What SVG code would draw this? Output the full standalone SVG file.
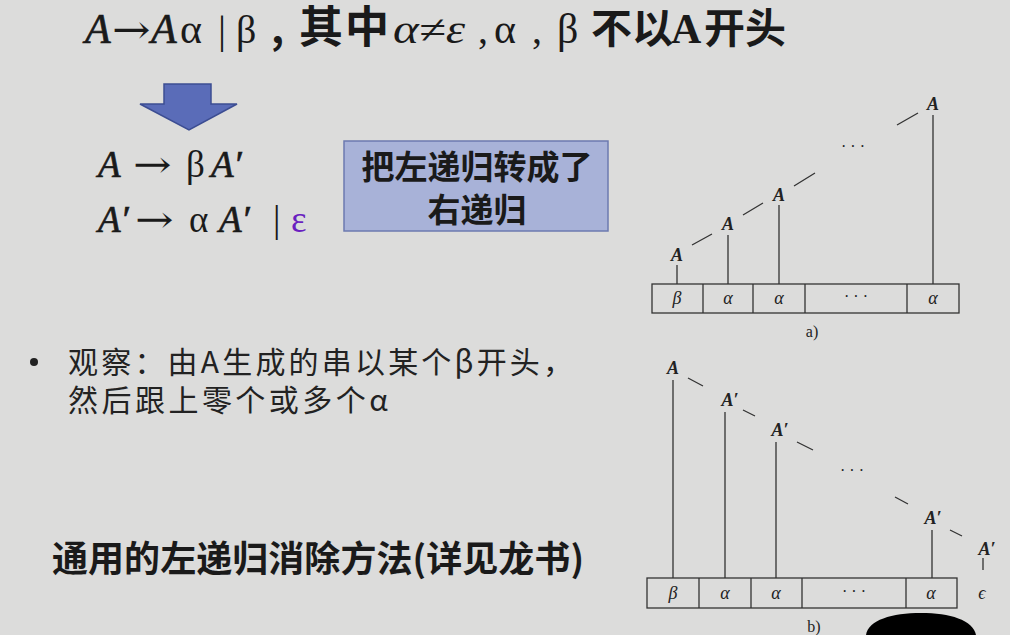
<svg xmlns="http://www.w3.org/2000/svg" width="1010" height="635" viewBox="0 0 1010 635">
<style>
.tm{font-family:"Liberation Serif","Times New Roman",serif;fill:#1a1a1a}
.ar{font-family:"DejaVu Serif",serif;fill:#1a1a1a}
.th{stroke:#1a1a1a;stroke-width:0.7}
.it{font-style:italic}
.cjkb{font-family:"Noto Sans CJK SC","Liberation Sans",sans-serif;font-weight:bold;fill:#1a1a1a}
.cjk{font-family:"Noto Sans CJK SC","Liberation Sans",sans-serif;fill:#222}
.cm{font-family:"Liberation Serif","Times New Roman",serif;font-style:italic;font-weight:bold;font-size:18px;fill:#222;text-anchor:middle}
.cv{font-family:"Liberation Serif","Times New Roman",serif;font-style:italic;font-size:18px;fill:#222;text-anchor:middle}
.cmr{font-family:"Liberation Serif","Times New Roman",serif;font-size:16px;fill:#222;text-anchor:middle}
.ln{stroke:#333;stroke-width:1.3;fill:none}
.cell{stroke:#333;stroke-width:1.3;fill:none}
</style>
<rect width="1010" height="635" fill="#dcdcdb"/>

<g id="title">
<text class="tm it th" font-size="42" x="85" y="43">A</text>
<text class="ar" font-size="40" transform="translate(112,43) scale(1.15,1)">→</text>
<text class="tm it th" font-size="42" x="151" y="43">A</text>
<text class="tm" font-size="42" x="180" y="43">α</text>
<text class="tm" font-size="40" x="218" y="43">| β</text>
<text class="cjkb" font-size="40" x="271" y="43">,</text>
<text class="cjkb" font-size="44" x="299" y="43" letter-spacing="2">其中</text>
<text class="tm it" font-size="40" x="393" y="43" textLength="72" lengthAdjust="spacingAndGlyphs">α≠ε</text>
<text class="tm" font-size="40" x="478" y="43">,</text>
<text class="tm" font-size="42" x="494" y="43">α</text>
<text class="tm" font-size="40" x="532" y="43">,</text>
<text class="tm" font-size="42" x="557" y="43">β</text>
<text class="cjkb" font-size="41" x="591" y="43">不以</text>
<text class="tm" font-size="42" font-weight="bold" x="671" y="43">A</text>
<text class="cjkb" font-size="41" x="704" y="43">开头</text>
</g>

<g id="down-arrow">
<path d="M164,84 H211 V104 H237 L189,130 L140,104 H164 Z" fill="#5a6cb8" stroke="#3c4d92" stroke-width="1.5"/>
</g>

<g id="rules">
<text class="tm it th" font-size="37" x="98" y="177">A</text>
<text class="ar" font-size="37" transform="translate(133,177) scale(1.25,1)">→</text>
<text class="tm" font-size="37" x="186" y="177">β</text>
<text class="tm it th" font-size="37" x="211" y="177">A′</text>
<text class="tm it th" font-size="37" x="98" y="232">A′</text>
<text class="ar" font-size="37" transform="translate(135,232) scale(1.25,1)">→</text>
<text class="tm" font-size="37" x="189" y="232">α</text>
<text class="tm it th" font-size="37" x="219" y="232">A′</text>
<text class="tm" font-size="37" x="273" y="232">|</text>
<text font-family="Liberation Serif, serif" font-size="37" x="291" y="232" style="fill:#6a1fc0">ε</text>
</g>

<g id="note-box">
<rect x="344" y="141" width="264" height="90" fill="#a8b2d8" stroke="#6c7ab0" stroke-width="1.5"/>
<text class="cjkb" font-size="33" x="477" y="179" text-anchor="middle">把左递归转成了</text>
<text class="cjkb" font-size="33" x="477" y="222" text-anchor="middle">右递归</text>
</g>

<g id="observation">
<circle cx="34" cy="362" r="4" fill="#222"/>
<text class="cjk" font-size="30" x="68" y="373" textLength="505" lengthAdjust="spacing">观察：由A生成的串以某个β开头，</text>
<text class="cjk" font-size="30" x="68" y="411" textLength="320" lengthAdjust="spacing">然后跟上零个或多个α</text>
</g>

<g id="general-method">
<text class="cjkb" font-size="36" x="52" y="572" textLength="532" lengthAdjust="spacing">通用的左递归消除方法(详见龙书)</text>
</g>

<g id="tree-a">
<rect class="cell" x="652" y="284" width="307" height="29"/>
<path class="ln" d="M703,284V313M753,284V313M805,284V313M907,284V313"/>
<text class="cv" x="677" y="304">β</text>
<text class="cv" x="728" y="304">α</text>
<text class="cv" x="779" y="304">α</text>
<text class="cmr" x="856" y="302">· · ·</text>
<text class="cv" x="933" y="304">α</text>
<text class="cmr" x="812" y="337">a)</text>
<text class="cm" x="677" y="261">A</text>
<text class="cm" x="728" y="230">A</text>
<text class="cm" x="779" y="201">A</text>
<text class="cm" x="933" y="110">A</text>
<text class="cmr" x="853" y="152">· · ·</text>
</g>

<g id="tree-b">
<rect class="cell" x="647" y="578" width="310" height="30"/>
<path class="ln" d="M699,578V608M751,578V608M802,578V608M906,578V608"/>
<text class="cv" x="673" y="599">β</text>
<text class="cv" x="725" y="599">α</text>
<text class="cv" x="776" y="599">α</text>
<text class="cmr" x="854" y="597">· · ·</text>
<text class="cv" x="931" y="599">α</text>
<text class="cv" x="982" y="599">ϵ</text>
<text class="cmr" x="814" y="632">b)</text>
<text class="cm" x="673" y="374">A</text>
<text class="cm" x="730" y="406">A′</text>
<text class="cm" x="780" y="436">A′</text>
<text class="cm" x="933" y="524">A′</text>
<text class="cm" x="987" y="555">A′</text>
<text class="cmr" x="852" y="476">· · ·</text>
</g>

<g id="connectors">
<path class="ln" d="M677,265V284M728,235V284M779,205V284M933,115V284"/>
<path class="ln" d="M692,245L712,234M743,215L763,203M794,186L815,173M897,125L918,113"/>
<path class="ln" d="M673,380V578M725,412V578M776,442V578M932,530V578M983,558V570"/>
<path class="ln" d="M688,378L703,386M743,410L755,416M797,442L813,450M895,497L908,504M950,530L962,536"/>
</g>

<path id="overlay" d="M866,635 C868,620 892,613 921,613 C950,613 973,620 976,635 Z" fill="#000"/>
</svg>
